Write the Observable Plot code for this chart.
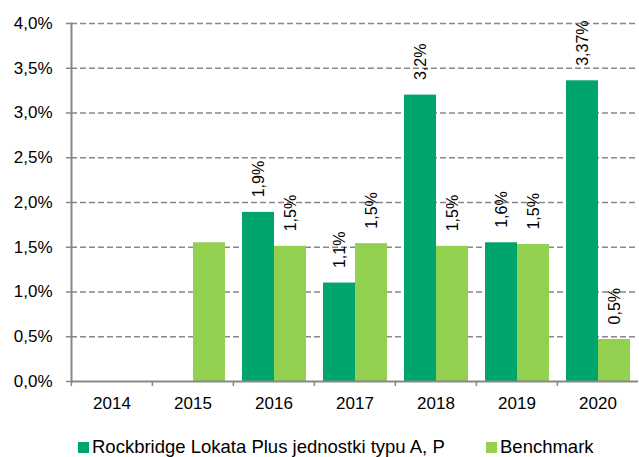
<!DOCTYPE html>
<html>
<head>
<meta charset="utf-8">
<script src="https://cdn.jsdelivr.net/npm/d3@7"></script>
<script src="https://cdn.jsdelivr.net/npm/@observablehq/plot@0.6"></script>
<style>
  body { margin: 0; background: #fff; font-family: "Liberation Sans", Arial, sans-serif; }
  #wrap { position: relative; width: 639px; height: 457px; overflow: hidden; }
  #legend { position: absolute; left: 78px; top: 437px; font-size: 18.5px; line-height: 19px; color: #000; white-space: nowrap; }
  #legend span.item { position: absolute; top: 0; white-space: nowrap; }
  #legend i { display: inline-block; width: 11px; height: 11px; margin-right: 3px; vertical-align: 0px; }
</style>
</head>
<body>
<div id="wrap">
  <div id="chart"></div>
  <div id="legend"></div>
</div>
<script>
// ---- data ----
const years = ["2014", "2015", "2016", "2017", "2018", "2019", "2020"];
const seriesNames = ["Rockbridge Lokata Plus jednostki typu A, P", "Benchmark"];
const fundValues = [null, null, 1.89, 1.10, 3.20, 1.55, 3.36];
const benchValues = [null, 1.55, 1.51, 1.54, 1.51, 1.53, 0.47];
const fundLabels = ["", "", "1,9%", "1,1%", "3,2%", "1,6%", "3,37%"];
const benchLabels = ["", "", "1,5%", "1,5%", "1,5%", "1,5%", "0,5%"];
const yTicks = [0, 0.5, 1, 1.5, 2, 2.5, 3, 3.5, 4];
const colors = ["#00A56E", "#92D050"];

// ---- table ----
const rows = [];
years.forEach((y, i) => {
  if (fundValues[i] != null) rows.push({year: y, series: seriesNames[0], value: fundValues[i], label: fundLabels[i]});
  if (benchValues[i] != null) rows.push({year: y, series: seriesNames[1], value: benchValues[i], label: benchLabels[i]});
});
const gridRows = [];
years.forEach(y => yTicks.forEach(t => gridRows.push({year: y, tick: t})));

const W = 639, H = 425, ML = 70, MR = 0;
const bw = (W - ML - MR) / years.length;
const fmt = d => d.toFixed(1).replace(".", ",") + "%";

const chart = Plot.plot({
  width: W,
  height: H,
  marginLeft: ML,
  marginRight: MR,
  marginTop: 23,
  marginBottom: 44,
  style: {fontFamily: "'Liberation Sans', Arial, sans-serif", fontSize: "17px", color: "#000", background: "#fff"},
  fx: {domain: years, padding: 0, label: null},
  x: {domain: seriesNames, paddingInner: 0, paddingOuter: 0.23, axis: null},
  y: {domain: [0, 4], label: null},
  color: {domain: seriesNames, range: colors},
  marks: [
    Plot.ruleY(gridRows.filter(d => d.tick > 0), {fx: "year", y: "tick", stroke: "#888", strokeWidth: 1.5, strokeDasharray: "6,3"}),
    Plot.barY(rows, {fx: "year", x: "series", y: "value", fill: "series"}),
    Plot.text(rows.filter(d => d.label), {fx: "year", x: "series", y: "value", text: "label", rotate: -90, textAnchor: "start", dy: -15, fontSize: 16, fill: "#000"}),
    Plot.ruleY(gridRows.filter(d => d.tick === 0), {fx: "year", y: "tick", stroke: "#888", strokeWidth: 2}),
    Plot.frame({anchor: "left", facetAnchor: "left", stroke: "#888", strokeWidth: 2}),
    Plot.axisY({ticks: yTicks, tickFormat: fmt, tickSize: 5, tickPadding: 14, stroke: "#888", strokeWidth: 1.5, fill: "#000", label: null}),
    Plot.axisFx({anchor: "bottom", tickSize: 0, tickPadding: 15, fill: "#000", label: null}),
    Plot.axisFx({anchor: "bottom", tickSize: 5, tickFormat: () => "", dx: -bw / 2, stroke: "#888", strokeWidth: 1.5, label: null})
  ]
});
document.getElementById("chart").appendChild(chart);

// ---- legend ----
const legend = document.getElementById("legend");
const offsets = [0, 408];
seriesNames.forEach((name, i) => {
  const s = document.createElement("span");
  s.className = "item";
  s.style.left = offsets[i] + "px";
  s.innerHTML = `<i style="background:${colors[i]}"></i>`;
  s.appendChild(document.createTextNode(name));
  legend.appendChild(s);
});
</script>
</body>
</html>
